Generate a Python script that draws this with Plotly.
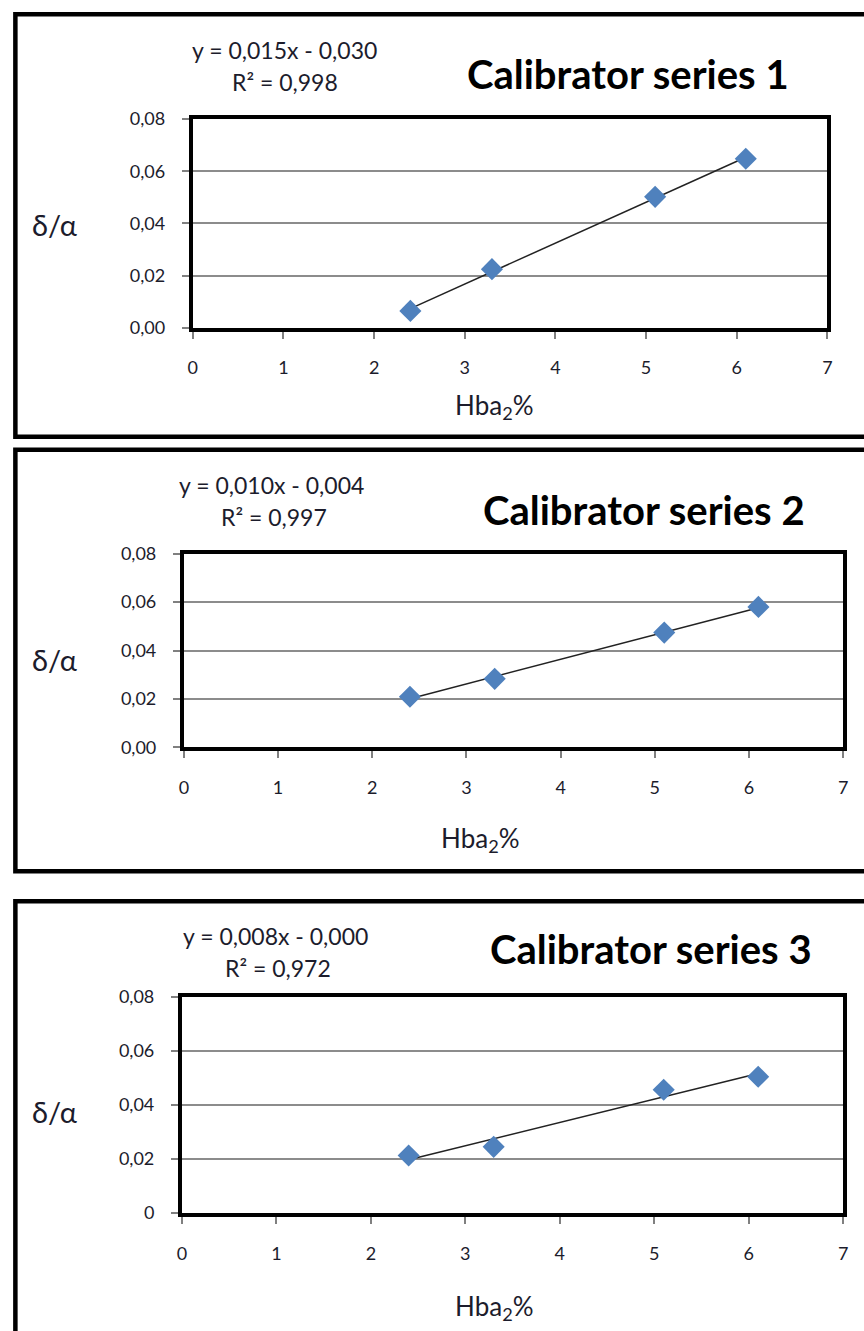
import numpy as np
import plotly.graph_objects as go

# ---------------- DATA ----------------
hba2 = [2.4, 3.3, 5.1, 6.1]
series1 = [0.0065, 0.0225, 0.0502, 0.0648]
series2 = [0.0209, 0.0283, 0.0474, 0.0580]
series3 = [0.0213, 0.0245, 0.0457, 0.0505]
titles = ["Calibrator series 1", "Calibrator series 2", "Calibrator series 3"]
equations = ["y = 0,015x - 0,030", "y = 0,010x - 0,004", "y = 0,008x - 0,000"]
r2_texts = ["R\u00b2 = 0,998", "R\u00b2 = 0,997", "R\u00b2 = 0,972"]
x_ticks = [0, 1, 2, 3, 4, 5, 6, 7]
y_ticks = [0, 0.02, 0.04, 0.06, 0.08]
y_ticklabels_a = ["0,00", "0,02", "0,04", "0,06", "0,08"]
y_ticklabels_b = ["0", "0,02", "0,04", "0,06", "0,08"]
y_label = "\u03b4/\u03b1"
x_label = "Hba<sub>2</sub>%"

W, H = 864, 1331
def px(x):
    return x / W
def py(y):
    y = (y - 9.8) / 0.9845
    return 1 - y / H

FONT = "Lato, 'Open Sans', sans-serif"
TXT = "#1c1c2c"

panels = [
    dict(ys=series1, yl=y_ticklabels_a, x0=190, x1=832, top=117, bot=326,
         box=(12, 435), eq=(283, 48), r2=(283, 80), title=(630, 72),
         xl=(495, 405), dl=(50, 223)),
    dict(ys=series2, yl=y_ticklabels_a, x0=181, x1=848, top=552, bot=746,
         box=(448, 870), eq=(270, 483), r2=(272, 515), title=(646, 508),
         xl=(481, 838), dl=(50, 658)),
    dict(ys=series3, yl=y_ticklabels_b, x0=179, x1=848, top=996, bot=1212,
         box=(900, 1345), eq=(274, 935), r2=(276, 967), title=(654, 948),
         xl=(495, 1307), dl=(50, 1110)),
]

fig = go.Figure()
annotations = []
shapes = []

for i, p in enumerate(panels):
    n = i + 1
    xa = "x" if n == 1 else f"x{n}"
    ya = "y" if n == 1 else f"y{n}"
    # trend line from least squares fit of the data
    slope, icpt = np.polyfit(hba2, p["ys"], 1)
    xs_fit = [min(hba2), max(hba2)]
    fig.add_trace(go.Scatter(
        x=xs_fit, y=[slope * v + icpt for v in xs_fit], mode="lines",
        line=dict(color="#222222", width=1.5), xaxis=xa, yaxis=ya,
        showlegend=False, hoverinfo="skip"))
    fig.add_trace(go.Scatter(
        x=hba2, y=p["ys"], mode="markers",
        marker=dict(symbol="diamond", size=17, color="#4F81BD"),
        xaxis=xa, yaxis=ya, showlegend=False))

    axis_common = dict(
        showline=True, linecolor="black", linewidth=4, mirror=True,
        ticks="outside", tickcolor="#808080", tickwidth=1.5, ticklen=7,
        tickfont=dict(family=FONT, size=18, color=TXT),
        zeroline=False,
    )
    fig.update_layout(**{
        ("xaxis" if n == 1 else f"xaxis{n}"): dict(
            axis_common, domain=[px(p["x0"]), px(p["x1"])], range=[0, 7],
            tickvals=x_ticks, ticktext=[str(v) for v in x_ticks],
            showgrid=False, anchor=ya, ticklabelstandoff=14),
        ("yaxis" if n == 1 else f"yaxis{n}"): dict(
            axis_common, domain=[py(p["bot"]), py(p["top"])], range=[0, 0.08],
            tickvals=y_ticks, ticktext=p["yl"],
            showgrid=True, gridcolor="#8c8c8c", gridwidth=1.5,
            anchor=xa, ticklabelstandoff=13),
    })

    # outer panel border
    shapes.append(dict(type="rect", xref="paper", yref="paper",
                       x0=px(10.5), x1=px(880), y0=py(p["box"][1]), y1=py(p["box"][0]),
                       line=dict(color="black", width=4.5), fillcolor="rgba(0,0,0,0)",
                       layer="above"))

    annotations += [
        dict(text=equations[i], x=px(p["eq"][0]), y=py(p["eq"][1]),
             font=dict(family=FONT, size=23, color=TXT)),
        dict(text=r2_texts[i], x=px(p["r2"][0]), y=py(p["r2"][1]),
             font=dict(family=FONT, size=23, color=TXT)),
        dict(text="<b>" + titles[i] + "</b>", x=px(p["title"][0]), y=py(p["title"][1]),
             font=dict(family=FONT, size=40, color="black")),
        dict(text=x_label, x=px(p["xl"][0]), y=py(p["xl"][1]),
             font=dict(family=FONT, size=26, color=TXT)),
        dict(text=y_label, x=px(p["dl"][0]), y=py(p["dl"][1]),
             font=dict(family=FONT, size=29, color=TXT)),
    ]

for a in annotations:
    a.update(xref="paper", yref="paper", showarrow=False,
             xanchor="center", yanchor="middle")

fig.update_layout(
    width=W, height=H, margin=dict(l=0, r=0, t=0, b=0),
    paper_bgcolor="white", plot_bgcolor="white",
    annotations=annotations, shapes=shapes, showlegend=False,
)

fig.write_html("out.html", config={"displayModeBar": False},
               post_script="document.body.style.margin='0';document.body.style.overflow='hidden';")
